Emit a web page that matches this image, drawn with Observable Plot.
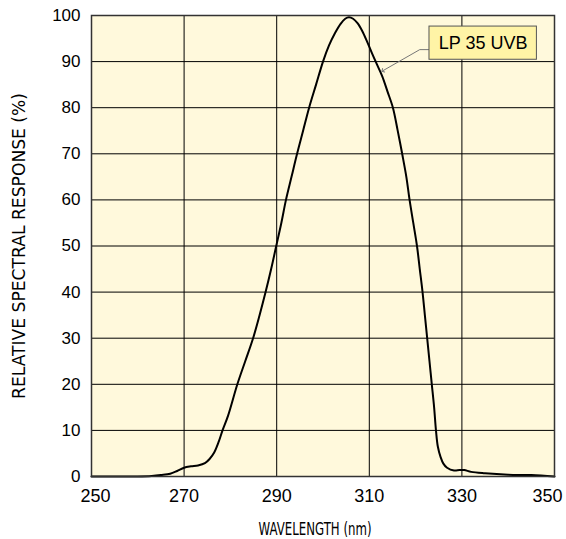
<!DOCTYPE html>
<html><head><meta charset="utf-8">
<script src="https://cdn.jsdelivr.net/npm/d3@7"></script>
<script src="https://cdn.jsdelivr.net/npm/@observablehq/plot@0.6"></script>
<style>body{margin:0;background:#fff}</style>
</head><body><div id="chart"></div>
<script>
const wavelength = [250,255,260,263,265,267,268.5,270,271.5,273,274.5,275.5,276.5,277.5,278.3,279.5,281.5,283.2,284.9,286.3,287.6,288.8,289.9,291,292,293.2,294.4,295.7,297,298.5,300,301.3,302.6,303.8,304.8,305.6,306.5,307.5,308.5,309.5,310.5,311.6,312.8,313.9,315.1,316.1,317.1,318,318.7,319.5,320.3,320.9,321.5,322,322.5,323,323.5,324,324.4,324.8,325.4,326,326.8,328.3,329.5,330.5,332,335,340,345,350];
const response = [0,0,0,0.1,0.3,0.6,1.2,1.9,2.2,2.4,2.9,3.8,5.2,7.6,10,13.2,20,25,30,35,40,45,50,55,60,65,70,75,80,85,90,93.5,96.2,98.2,99.3,99.6,99.3,98.3,96.6,94.4,92,89.5,86.8,83.6,80,75.2,70,65,60,55,50,45,40,35,30,25,20,15,10,6.5,4.2,2.8,1.9,1.3,1.4,1.4,1.0,0.7,0.4,0.3,0];
const xTicksMid = [270,290,310,330];
const xTickFirst = [250];
const xTickLast = [350];
const yTicks = [0,10,20,30,40,50,60,70,80,90,100];
const xGrid = [270,290,310,330];
const yGrid = [10,20,30,40,50,60,70,80,90];
const seriesLabel = ["LP 35 UVB"];
const labelBoxX = [323.0, 346.2];
const labelBoxY = [90.4, 97.6];
const leaderX = [322.9, 320.9, 312.9];
const leaderY = [92.6, 92.6, 88.0];
const xTitle = "WAVELENGTH (nm)";
const yTitle = "RELATIVE SPECTRAL RESPONSE (%)";

const data = wavelength.map((w, i) => ({w, r: response[i]}));
const leader = leaderX.map((x, i) => ({x, y: leaderY[i]}));
const box = [{x1: labelBoxX[0], x2: labelBoxX[1], y1: labelBoxY[0], y2: labelBoxY[1]}];
const titleFont = "'DejaVu Sans', sans-serif";

const chart = Plot.plot({
  width: 566, height: 539,
  marginLeft: 91, marginRight: 12, marginTop: 15, marginBottom: 63,
  style: {fontFamily: "'Liberation Sans', Arial, sans-serif", fontSize: "17px", color: "#000", background: "#fff", overflow: "visible"},
  x: {domain: [250, 350], label: null},
  y: {domain: [0, 100], label: null},
  marks: [
    Plot.frame({fill: "#fff9dc"}),
    Plot.gridX(xGrid, {stroke: "#000", strokeOpacity: 1, strokeWidth: 1}),
    Plot.gridY(yGrid, {stroke: "#000", strokeOpacity: 1, strokeWidth: 1}),
    Plot.line(data, {x: "w", y: "r", curve: "catmull-rom", stroke: "#000", strokeWidth: 2}),
    Plot.axisX(xTicksMid, {tickSize: 0, tickPadding: 13, fontSize: 18}),
    Plot.axisX(xTickFirst, {tickSize: 0, tickPadding: 13, fontSize: 18, dx: 4}),
    Plot.axisX(xTickLast, {tickSize: 0, tickPadding: 13, fontSize: 18, dx: -7}),
    Plot.axisY(yTicks, {tickSize: 0, tickPadding: 11, fontSize: 17}),
    Plot.line(leader, {x: "x", y: "y", stroke: "#777", strokeWidth: 1, markerEnd: "arrow"}),
    Plot.rect(box, {x1: "x1", x2: "x2", y1: "y1", y2: "y2", fill: "#fff4a6", stroke: "#555", strokeWidth: 1}),
    Plot.text(seriesLabel, {x: (labelBoxX[0] + labelBoxX[1]) / 2, y: (labelBoxY[0] + labelBoxY[1]) / 2, text: d => d, fontSize: 18, fill: "#000"}),
    Plot.frame({stroke: "#333", strokeWidth: 1.5}),
    Plot.text([xTitle], {frameAnchor: "bottom", text: d => d, dy: 58, lineAnchor: "bottom", fontFamily: titleFont, fontSize: 17, dx: -8}),
    Plot.text([yTitle], {frameAnchor: "left", textAnchor: "middle", text: d => d, rotate: -90, dx: -72, fontFamily: titleFont, fontSize: 17})
  ]
});
chart.querySelectorAll("text").forEach(t => {
  if (t.textContent === xTitle) { t.setAttribute("textLength", 113); t.setAttribute("lengthAdjust", "spacingAndGlyphs"); }
  if (t.textContent === yTitle) { t.setAttribute("textLength", 306); t.setAttribute("lengthAdjust", "spacingAndGlyphs"); }
});
document.getElementById("chart").append(chart);
</script>
</body></html>
